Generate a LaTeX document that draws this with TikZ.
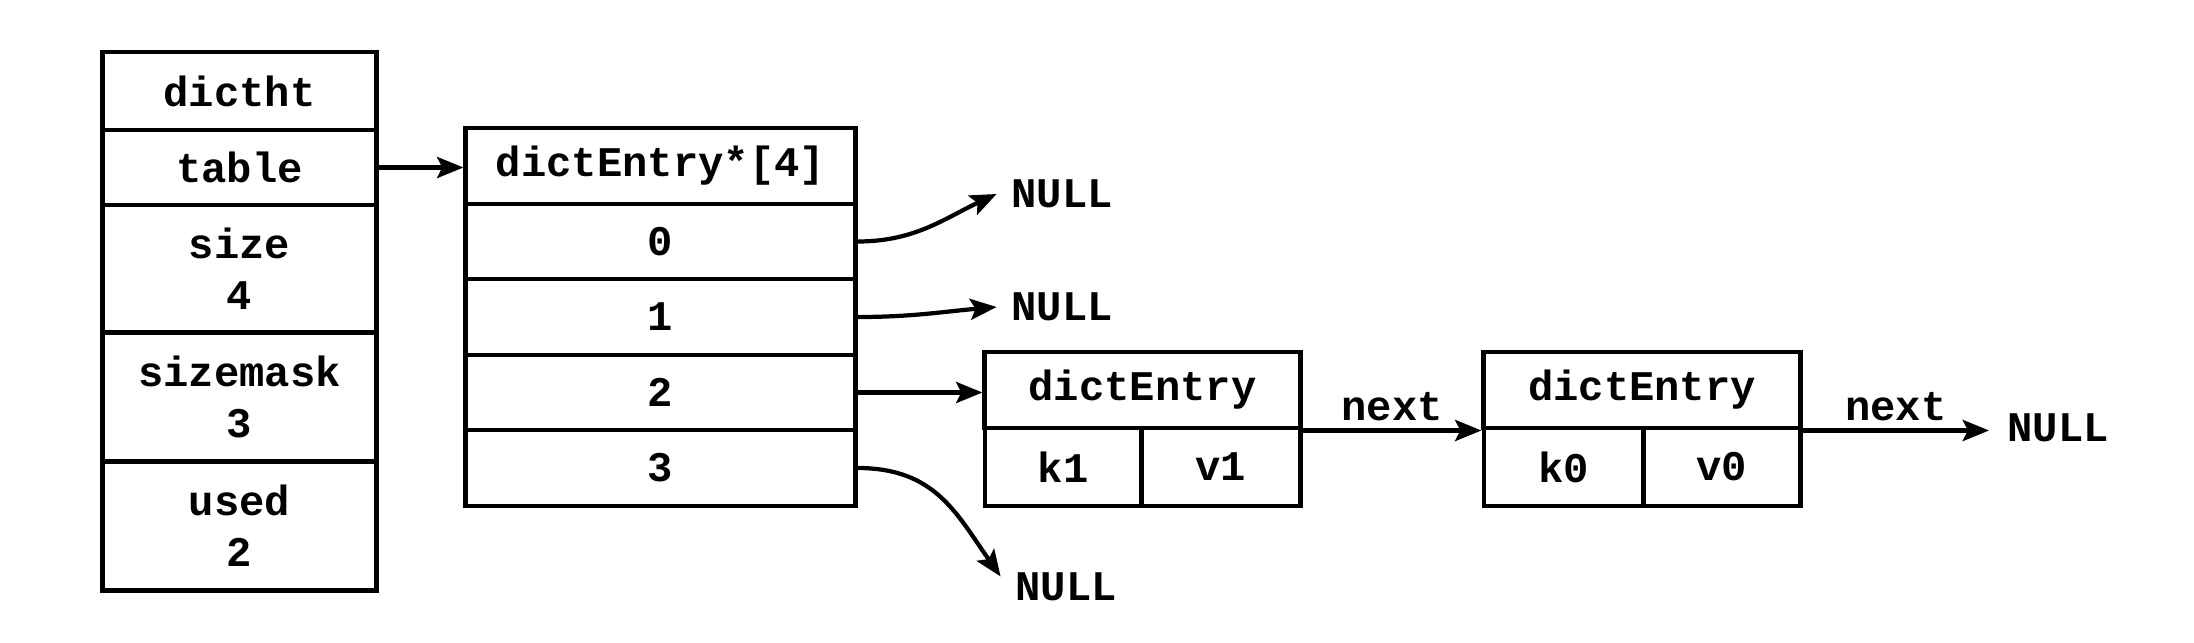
\documentclass[tikz,border=0pt]{standalone}
\usepackage{fontspec}
\setmonofont{Liberation Mono}
\usetikzlibrary{arrows.meta}
\tikzset{
  cell/.style={draw, line width=1.4pt, inner sep=0pt, align=center,
    font=\ttfamily\bfseries\fontsize{12}{14.5}\selectfont},
  lbl/.style={inner sep=0pt, font=\ttfamily\bfseries\fontsize{12}{14.5}\selectfont},
  ptr/.style={line width=1.2pt, -{Stealth[length=7.5pt,width=6pt,inset=1.5pt]}}
}
\begin{document}
\begin{tikzpicture}[x=0.01cm,y=-0.01cm]
\useasboundingbox (0,0) rectangle (2194,642);
% dictht
\node[cell, minimum width=2.73cm, minimum height=0.78cm] (ht)   at (239.5,91)    {dictht};
\node[cell, minimum width=2.73cm, minimum height=0.75cm] (tab)  at (239.5,167.5) {table};
\node[cell, minimum width=2.73cm, minimum height=1.27cm] (size) at (239.5,268.5) {size\\4};
\node[cell, minimum width=2.73cm, minimum height=1.29cm] (mask) at (239.5,396.5) {sizemask\\3};
\node[cell, minimum width=2.73cm, minimum height=1.29cm] (used) at (239.5,525.5) {used\\2};
% array
\node[cell, minimum width=3.89cm, minimum height=0.76cm] (arr) at (660.5,166)   {dictEntry*[4]};
\node[cell, minimum width=3.89cm, minimum height=0.75cm] (a0)  at (660.5,241.5) {0};
\node[cell, minimum width=3.89cm, minimum height=0.76cm] (a1)  at (660.5,317)   {1};
\node[cell, minimum width=3.89cm, minimum height=0.75cm] (a2)  at (660.5,392.5) {2};
\node[cell, minimum width=3.89cm, minimum height=0.76cm] (a3)  at (660.5,468)   {3};
% dictEntry 1
\node[cell, minimum width=3.15cm, minimum height=0.76cm] (e1h) at (1142.5,390) {dictEntry};
\node[cell, minimum width=1.56cm, minimum height=0.78cm] (e1k) at (1063,467)   {k1};
\node[cell, minimum width=1.59cm, minimum height=0.78cm] (e1v) at (1220.5,467) {v1};
% dictEntry 2
\node[cell, minimum width=3.16cm, minimum height=0.76cm] (e2h) at (1642,390)   {dictEntry};
\node[cell, minimum width=1.59cm, minimum height=0.78cm] (e2k) at (1563.5,467) {k0};
\node[cell, minimum width=1.57cm, minimum height=0.78cm] (e2v) at (1721.5,467) {v0};
% NULLs
\node[lbl] (n0) at (1062,194) {NULL};
\node[lbl] (n1) at (1062,307) {NULL};
\node[lbl] (n3) at (1066,587) {NULL};
\node[lbl] (n4) at (2058,428) {NULL};
% arrows
\draw[ptr] (tab.east) -- (tab.east -| arr.west);
\draw[ptr] (a0.east) to[out=0, in=205] ([xshift=-4pt]n0.west);
\draw[ptr] (a1.east) to[out=0, in=185] ([xshift=-4pt]n1.west);
\draw[ptr] (a2.east) -- (a2.east -| e1h.west);
\draw[ptr] (a3.east) to[out=0, in=125, looseness=1.1] ([xshift=-4pt,yshift=3pt]n3.west);
\draw[ptr] (e1h.south east) -- node[lbl, above=2pt] (nx1) {next} (e2h.south west);
\draw[ptr] (e2h.south east) -- node[lbl, above=2pt] (nx2) {next} ([xshift=-5pt]e2h.south east -| n4.west);
\end{tikzpicture}
\end{document}
